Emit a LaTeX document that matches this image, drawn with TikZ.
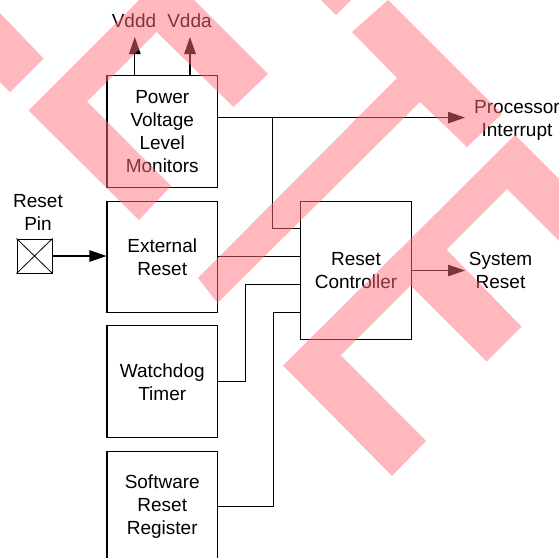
\documentclass[tikz,border=0pt]{standalone}
\usepackage{fontspec}
\setmainfont{Liberation Sans}
\usetikzlibrary{arrows.meta, positioning, calc}
\definecolor{wmred}{RGB}{255,112,122}

\begin{document}
\begin{tikzpicture}[x=1pt, y=-1pt, line width=1.1pt,
  every node/.style={font=\fontsize{19}{23}\selectfont},
  block/.style={draw, inner sep=0pt, align=center, minimum width=110.5pt, minimum height=111pt},
  lbl/.style={inner sep=0pt, align=center},
  arr/.style={-{Triangle[length=17pt, width=11.5pt]}},
  wmark/.style={fill=wmred, opacity=0.49}]
\useasboundingbox (0,0) rectangle (559,557);

% Source blocks
\node[block, minimum height=112pt] (pvlm) at (162.25,131.2) {Power\\Voltage\\Level\\Monitors};
\node[block] (extrst) at (162.25,256.85) {External\\Reset};
\node[block, minimum height=112pt] (wdt) at (162.25,381.8) {Watchdog\\Timer};
\node[block, minimum height=110pt] (swrst) at (162.25,506.2) {Software\\Reset\\Register};

% Controller
\node[block, minimum width=111pt, minimum height=138.3pt] (rstctl) at (356,270.5) {Reset\\Controller};
\foreach \i/\f in {1/0.2,2/0.4,3/0.6,4/0.8}
  \coordinate (in\i) at ($(rstctl.north west)!\f!(rstctl.south west)$);

% Pin
\node[draw, inner sep=0pt, minimum width=35pt, minimum height=34pt, line width=1pt] (pin) at (34.5,256) {};
\draw[line width=0.8pt] (pin.north west) -- (pin.south east) (pin.north east) -- (pin.south west);

% Labels
\node[lbl] (pinlbl) at (38,212.7) {Reset\\Pin};
\node[lbl] (vddd) at (134,20.7) {Vddd};
\node[lbl] (vdda) at (189.5,20.7) {Vdda};
\node[lbl] (procint) at (517,120.1) {Processor\\Interrupt};
\node[lbl] (sysrst) at (500.5,270.3) {System\\Reset};

% Connectors
\coordinate (vdddend) at (134.8,37);
\coordinate (vddaend) at (190,37);
\coordinate (intend) at (465,117.6);
\coordinate (sysend) at (465,270.5);
\coordinate (tap) at (272.7,117.6);

\draw[arr] (pvlm.north -| vdddend) -- (vdddend);
\draw[arr] (pvlm.north -| vddaend) -- (vddaend);
\draw[arr] (pvlm.east |- intend) -- (intend);
\draw (tap) |- (in1);
\draw (extrst.east |- in2) -- (in2);
\draw (wdt.east) -- ++(27.5,0) |- (in3);
\draw (swrst.east) -- ++(55,0) |- (in4);
\draw[arr] (rstctl.east) -- (sysend);
\draw[arr] (pin.east) -- (pin.east -| extrst.west);

% Watermark
\fill[wmark] (0,13) -- (43.5,58.5) -- (10,92) -- (0,82) -- cycle;
\fill[wmark] (28.5,110.5) -- (139,0) -- (194,0) -- (268,74) -- (233.5,107) -- (156.5,32)
  -- (87,101.5) -- (171,186) -- (139,220) -- cycle;
\fill[wmark] (321,0) -- (351,0) -- (336,15) -- cycle;
\fill[wmark] (352,32) -- (388,0) -- (502,114) -- (467,147) -- (420,102)
  -- (217.5,303) -- (198,278) -- (397,78) -- cycle;
\fill[wmark] (283,365.5) -- (515,135) -- (559,179) -- (559,241) -- (507,189)
  -- (446.5,249.5) -- (521.5,326.5) -- (486.5,361.5) -- (410.5,285.5)
  -- (340.75,355.25) -- (426,441) -- (392,476) -- cycle;
\end{tikzpicture}
\end{document}
